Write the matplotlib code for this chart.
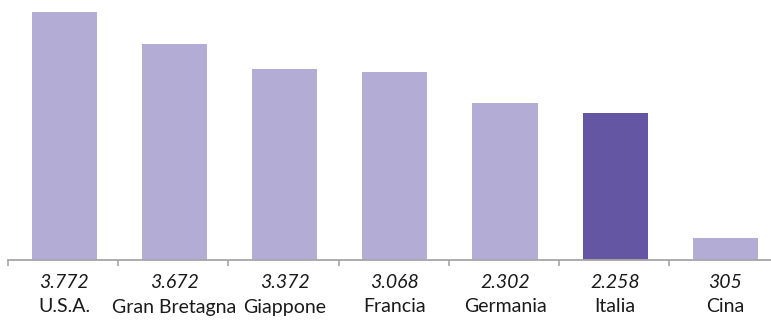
import numpy as np
import matplotlib
matplotlib.use("Agg")
import matplotlib.pyplot as plt

# countries, the values printed under each bar, and the bar heights
paesi = ["U.S.A.", "Gran Bretagna", "Giappone", "Francia", "Germania", "Italia", "Cina"]
valori = ["3.772", "3.672", "3.372", "3.068", "2.302", "2.258", "305"]
altezze = [248, 216, 191, 188, 157, 147, 22]

chiaro = "#B3ADD5"
scuro = "#6556A3"
colori = [scuro if p == "Italia" else chiaro for p in paesi]

plt.rcParams["font.family"] = ["Lato", "DejaVu Sans"]

fig = plt.figure(figsize=(7.71, 3.2), dpi=100)
W, H = 771, 320
ax = fig.add_axes([8 / W, 1 - 259.5 / H, 771.4 / W, 259.5 / H])

x = np.arange(len(paesi))
ax.bar(x + 0.01, altezze, width=0.59, color=colori)

ax.set_xlim(-0.5, len(paesi) - 0.5)
ax.set_ylim(0, 259.5)

for s in ["top", "right", "left"]:
    ax.spines[s].set_visible(False)
ax.spines["bottom"].set_color("#A6A6A6")
ax.spines["bottom"].set_linewidth(1.3)
ax.set_yticks([])

# ticks sit between categories
ax.set_xticks(np.arange(-0.5, len(paesi) + 0.5, 1.0))
ax.tick_params(axis="x", length=4, width=1.2, color="#A6A6A6", labelbottom=False)

tr = ax.get_xaxis_transform()
for i in range(len(paesi)):
    ax.text(i + 0.01, -23.5 / 259.5, valori[i], transform=tr, ha="center", va="center",
            fontsize=14, style="italic", color="#1a1a1a")
    ax.text(i + 0.01, -47.5 / 259.5, paesi[i], transform=tr, ha="center", va="center",
            fontsize=14, color="#1a1a1a")

fig.savefig("out.png", dpi=100)
